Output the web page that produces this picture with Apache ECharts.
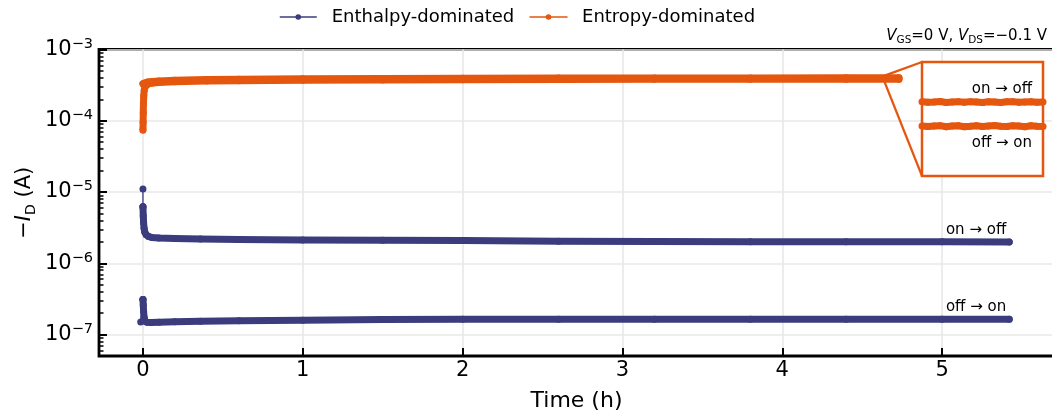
<!DOCTYPE html>
<html>
<head>
<meta charset="utf-8">
<script src="https://cdn.jsdelivr.net/npm/echarts@6/dist/echarts.min.js"></script>
<style>
  html, body { margin: 0; padding: 0; background: #fff; }
  #chart { width: 1052px; height: 415px; }
</style>
</head>
<body>
<div id="chart"></div>
<script>
// Drain current −I_D after switching, for the enthalpy- and entropy-dominated devices.
const NAVY = '#3a3c7d';
const ORANGE = '#e5560f';
const FONT = 'DejaVu Sans';

// Axis ticks
const xTicks = [0, 1, 2, 3, 4, 5];
const yTicks = [1e-7, 1e-6, 1e-5, 1e-4, 1e-3];
const minorMantissas = [2, 3, 4, 5, 6, 7, 8, 9];
const minorDecades = [1e-8, 1e-7, 1e-6, 1e-5, 1e-4];

// Enthalpy-dominated, on → off (time in h, current in A)
const enthOnOffFirstTime = [0, 0];
const enthOnOffFirstCurrent = [1.1e-5, 6.2e-6];
const enthOnOffTime = [0, 0.002, 0.004, 0.007, 0.011, 0.02, 0.035, 0.056, 0.1, 0.2, 0.36, 0.6, 1.0, 1.5, 2.0, 2.6, 3.2, 3.8, 4.4, 5.0, 5.42];
const enthOnOffCurrent = [6.2e-6, 4.6e-6, 3.7e-6, 3.1e-6, 2.75e-6, 2.52e-6, 2.38e-6, 2.30e-6, 2.26e-6, 2.22e-6, 2.19e-6, 2.15e-6, 2.12e-6, 2.10e-6, 2.08e-6, 2.03e-6, 2.02e-6, 2.01e-6, 2.01e-6, 2.00e-6, 1.99e-6];

// Enthalpy-dominated, off → on
const enthOffOnFirstTime = [-0.014, 0];
const enthOffOnFirstCurrent = [1.5e-7, 3.1e-7];
const enthOffOnTime = [0, 0.002, 0.004, 0.007, 0.012, 0.025, 0.05, 0.1, 0.2, 0.36, 0.6, 1.0, 1.5, 2.0, 2.6, 3.2, 3.8, 4.4, 5.0, 5.42];
const enthOffOnCurrent = [3.1e-7, 2.6e-7, 2.1e-7, 1.75e-7, 1.55e-7, 1.49e-7, 1.48e-7, 1.49e-7, 1.51e-7, 1.54e-7, 1.56e-7, 1.59e-7, 1.62e-7, 1.64e-7, 1.64e-7, 1.64e-7, 1.64e-7, 1.64e-7, 1.64e-7, 1.64e-7];

// Entropy-dominated, on → off
const entrOnOffTime = [0, 0.01, 0.03, 0.06, 0.1, 0.2, 0.4, 0.6, 1.0, 1.5, 2.0, 2.6, 3.2, 3.8, 4.4, 4.73];
const entrOnOffCurrent = [3.3e-4, 3.4e-4, 3.5e-4, 3.56e-4, 3.62e-4, 3.70e-4, 3.78e-4, 3.83e-4, 3.88e-4, 3.92e-4, 3.95e-4, 3.97e-4, 3.98e-4, 3.99e-4, 4.00e-4, 4.00e-4];

// Entropy-dominated, off → on
const entrOffOnTime = [0, 0.001, 0.002, 0.003, 0.005, 0.008, 0.013, 0.02, 0.035, 0.06, 0.1, 0.2, 0.4, 0.6, 1.0, 1.5, 2.0, 2.6, 3.2, 3.8, 4.4, 4.73];
const entrOffOnCurrent = [7.4e-5, 9.5e-5, 1.3e-4, 1.75e-4, 2.25e-4, 2.7e-4, 3.0e-4, 3.18e-4, 3.3e-4, 3.38e-4, 3.45e-4, 3.52e-4, 3.60e-4, 3.64e-4, 3.70e-4, 3.74e-4, 3.77e-4, 3.79e-4, 3.81e-4, 3.82e-4, 3.83e-4, 3.83e-4];

// Magnified window of the entropy-dominated traces
const insetTimeRange = [4.60, 4.64];
const insetCurrentRange = [3.5e-4, 4.3e-4];
const insetTime = [4.600, 4.602, 4.604, 4.606, 4.608, 4.610, 4.612, 4.614, 4.616, 4.618, 4.620, 4.622, 4.624, 4.626, 4.628, 4.630, 4.632, 4.634, 4.636, 4.638, 4.640];
const insetOnOff = [4.002e-4, 3.998e-4, 4.000e-4, 4.004e-4, 3.997e-4, 4.001e-4, 4.003e-4, 3.998e-4, 4.003e-4, 4.000e-4, 3.997e-4, 4.002e-4, 4.001e-4, 3.997e-4, 4.002e-4, 4.003e-4, 3.998e-4, 4.000e-4, 4.002e-4, 3.998e-4, 4.001e-4];
const insetOffOn = [3.831e-4, 3.827e-4, 3.830e-4, 3.833e-4, 3.826e-4, 3.830e-4, 3.832e-4, 3.826e-4, 3.829e-4, 3.833e-4, 3.827e-4, 3.831e-4, 3.834e-4, 3.829e-4, 3.827e-4, 3.832e-4, 3.830e-4, 3.826e-4, 3.832e-4, 3.829e-4, 3.828e-4];

const yMinorTicks = [];
minorDecades.forEach(d => minorMantissas.forEach(m => yMinorTicks.push(m * d)));

const pairs = (t, v) => t.map((x, i) => [x, v[i]]);

function labelLast(data, text, position, distance, dx) {
  const last = data.length - 1;
  data[last] = {
    value: data[last],
    label: {
      show: true, formatter: text, position: position, distance: distance,
      align: 'right', offset: [dx, 0],
      fontFamily: FONT, fontSize: 15, color: '#000'
    }
  };
  return data;
}

function trace(name, color, data, extra) {
  return Object.assign({
    type: 'line', name: name, data: data, color: color,
    symbol: 'circle', symbolSize: 7, showSymbol: true, showAllSymbol: true,
    lineStyle: { width: 7, cap: 'round', join: 'round', color: color },
    itemStyle: { color: color },
    emphasis: { disabled: true }, silent: true, animation: false,
    xAxisIndex: 0, yAxisIndex: 0, z: 2
  }, extra || {});
}

function powerLabel(v) {
  const e = Math.round(Math.log10(v));
  return '{b|10}{s|' + (e < 0 ? '\u2212' + (-e) : e) + '}';
}

const chart = echarts.init(document.getElementById('chart'), null, { renderer: 'canvas' });

chart.setOption({
  animation: false,
  backgroundColor: '#fff',
  textStyle: { fontFamily: FONT, color: '#000' },
  title: {
    text: '{v|V}{s|GS}{n|=0 V, }{v|V}{s|DS}{n|=\u22120.1 V}',
    right: 5, top: 26, padding: 0,
    textStyle: {
      fontFamily: FONT, color: '#000', fontWeight: 'normal',
      rich: {
        v: { fontFamily: FONT, fontStyle: 'italic', fontWeight: 'normal', fontSize: 15, lineHeight: 20, color: '#000' },
        n: { fontFamily: FONT, fontWeight: 'normal', fontSize: 15, lineHeight: 20, color: '#000' },
        s: { fontFamily: FONT, fontWeight: 'normal', fontSize: 10.5, lineHeight: 10, verticalAlign: 'bottom', color: '#000' }
      }
    }
  },
  legend: {
    data: ['Enthalpy-dominated', 'Entropy-dominated'],
    left: 279, top: 8, padding: 0,
    itemWidth: 37, itemHeight: 7, itemGap: 15,
    lineStyle: { width: 1.5 },
    textStyle: { fontFamily: FONT, fontSize: 18, color: '#000', padding: [0, 0, 0, 10] },
    selectedMode: false
  },
  grid: [
    { left: 99, top: 49.5, right: -2, bottom: 59, outerBoundsMode: 'none', containLabel: false,
      show: true, borderColor: '#000', borderWidth: 2.8, backgroundColor: 'transparent' },
    { left: 922, top: 62, width: 121, height: 114, outerBoundsMode: 'none', containLabel: false,
      show: true, borderColor: ORANGE, borderWidth: 2.5, backgroundColor: '#fff', z: 1 }
  ],
  xAxis: [
    {
      type: 'value', gridIndex: 0, min: -0.275, max: 5.7,
      name: 'Time (h)', nameLocation: 'middle', nameGap: 34, nameMoveOverlap: false,
      nameTextStyle: { fontFamily: FONT, fontSize: 22, color: '#000' },
      axisLine: { show: false, onZero: false },
      axisTick: { show: true, inside: true, length: 8, customValues: xTicks, lineStyle: { color: '#000', width: 2 } },
      axisLabel: { customValues: xTicks, margin: 4, fontFamily: FONT, fontSize: 21, color: '#000' },
      splitLine: { show: true, lineStyle: { color: '#e8e8e8', width: 1.6 } }
    },
    { type: 'value', gridIndex: 1, min: insetTimeRange[0], max: insetTimeRange[1], show: false }
  ],
  yAxis: [
    {
      type: 'log', gridIndex: 0, min: 5e-8, max: 1e-3, position: 'left',
      name: '{m|\u2212}{i|I}{s|D}{m| (A)}', nameLocation: 'middle', nameGap: 61, nameMoveOverlap: false,
      nameTextStyle: {
        fontFamily: FONT, color: '#000',
        rich: {
          m: { fontFamily: FONT, fontSize: 21, lineHeight: 26, color: '#000' },
          i: { fontFamily: FONT, fontSize: 21, lineHeight: 26, fontStyle: 'italic', color: '#000' },
          s: { fontFamily: FONT, fontSize: 14, lineHeight: 13, verticalAlign: 'bottom', color: '#000' }
        }
      },
      axisLine: { show: false, onZero: false },
      axisTick: { show: true, inside: true, length: 8, customValues: yTicks, lineStyle: { color: '#000', width: 2 } },
      axisLabel: {
        customValues: yTicks, margin: 6, formatter: powerLabel,
        rich: {
          b: { fontFamily: FONT, fontSize: 21, lineHeight: 26, color: '#000' },
          s: { fontFamily: FONT, fontSize: 14.5, lineHeight: 13, verticalAlign: 'top', color: '#000' }
        }
      },
      splitLine: { show: true, lineStyle: { color: '#e8e8e8', width: 1.6 } }
    },
    {
      type: 'log', gridIndex: 0, min: 5e-8, max: 1e-3, position: 'left',
      axisLine: { show: false, onZero: false },
      axisTick: { show: true, inside: true, length: 4.5, customValues: yMinorTicks, lineStyle: { color: '#000', width: 1.5 } },
      axisLabel: { show: false },
      splitLine: { show: false }
    },
    { type: 'log', gridIndex: 1, min: insetCurrentRange[0], max: insetCurrentRange[1], show: false }
  ],
  series: [
    trace('Enthalpy-dominated', NAVY, pairs(enthOnOffFirstTime, enthOnOffFirstCurrent), { lineStyle: { width: 1.3, color: NAVY } }),
    trace('Enthalpy-dominated', NAVY, pairs(enthOffOnFirstTime, enthOffOnFirstCurrent), { lineStyle: { width: 1.3, color: NAVY } }),
    trace('Enthalpy-dominated', NAVY, labelLast(pairs(enthOnOffTime, enthOnOffCurrent), 'on \u2192 off', 'top', 1, -3)),
    trace('Enthalpy-dominated', NAVY, labelLast(pairs(enthOffOnTime, enthOffOnCurrent), 'off \u2192 on', 'top', 1, -3)),
    trace('Entropy-dominated', ORANGE, pairs(entrOnOffTime, entrOnOffCurrent)),
    trace('Entropy-dominated', ORANGE, pairs(entrOffOnTime, entrOffOnCurrent)),
    trace('Entropy-dominated', ORANGE, labelLast(pairs(insetTime, insetOnOff), 'on \u2192 off', 'top', 2, -11),
      { xAxisIndex: 1, yAxisIndex: 2, symbolSize: 7, lineStyle: { width: 7, cap: 'butt', join: 'round', color: ORANGE }, z: 3 }),
    trace('Entropy-dominated', ORANGE, labelLast(pairs(insetTime, insetOffOn), 'off \u2192 on', 'bottom', 6, -11),
      { xAxisIndex: 1, yAxisIndex: 2, symbolSize: 7, lineStyle: { width: 7, cap: 'butt', join: 'round', color: ORANGE }, z: 3 })
  ]
});

// Connector lines from the magnified time window to the inset frame
const fromTop = chart.convertToPixel({ seriesIndex: 4 }, [insetTimeRange[1], insetCurrentRange[1]]);
const fromBottom = chart.convertToPixel({ seriesIndex: 4 }, [insetTimeRange[1], insetCurrentRange[0]]);
const toTop = chart.convertToPixel({ seriesIndex: 6 }, [insetTimeRange[0], insetCurrentRange[1]]);
const toBottom = chart.convertToPixel({ seriesIndex: 6 }, [insetTimeRange[0], insetCurrentRange[0]]);

chart.setOption({
  graphic: [
    { type: 'line', silent: true, z: 4, shape: { x1: fromTop[0], y1: fromTop[1], x2: toTop[0], y2: toTop[1] }, style: { stroke: ORANGE, lineWidth: 2.2 } },
    { type: 'line', silent: true, z: 4, shape: { x1: fromBottom[0], y1: fromBottom[1], x2: toBottom[0], y2: toBottom[1] }, style: { stroke: ORANGE, lineWidth: 2.2 } }
  ]
});
</script>
</body>
</html>
